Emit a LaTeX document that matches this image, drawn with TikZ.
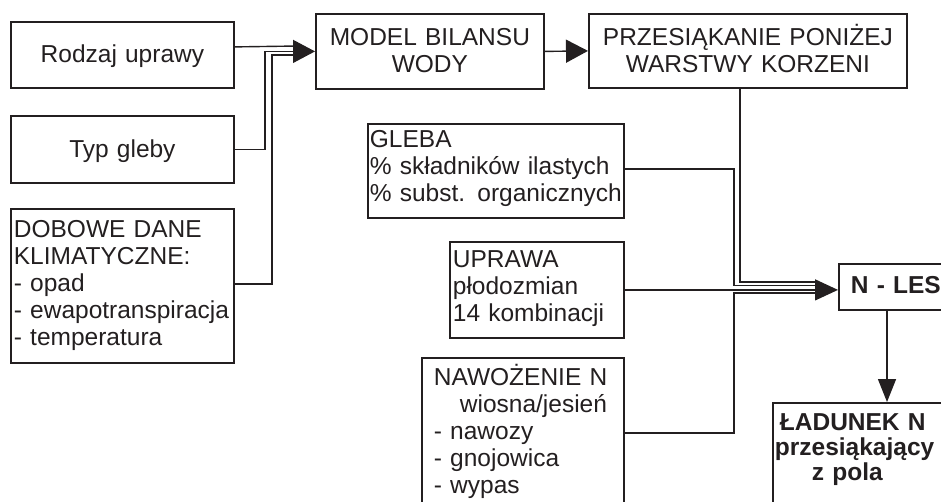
\documentclass[tikz,border=0pt]{standalone}
\usepackage{fontspec}
\setmainfont{Liberation Sans}
\usetikzlibrary{arrows.meta}
\definecolor{ink}{RGB}{35,31,32}
\begin{document}
\begin{tikzpicture}[x=1pt,y=-1pt,
  every node/.style={text=ink},
  box/.style={draw=ink, line width=1.8pt, rectangle, anchor=north west,
    inner ysep=0pt, font=\fontsize{24.5}{27}\selectfont},
  lbox/.style={box, align=left},
  cbox/.style={box, align=center, inner xsep=0pt},
  boldbox/.style={box, align=left, font=\fontsize{24.5}{25}\selectfont\bfseries},
  conn/.style={draw=ink, line width=1.4pt},
  bigtip/.style={-{Triangle[length=22pt,width=23pt]}},
  downtip/.style={-{Triangle[length=23pt,width=18pt]}}
]
\useasboundingbox (0,0) rectangle (941,501);
\clip (0,0) rectangle (941,501);

% input boxes on the left
\node[cbox, text width=223pt, text height=41pt, text depth=25pt] (rodzaj) at (10,21) {Rodzaj uprawy};
\node[cbox, text width=223pt, text height=42pt, text depth=25pt] (typ) at (10,115) {Typ gleby};
\node[lbox, inner xsep=3pt, text width=217pt, text height=29pt, text depth=125pt] (dobowe) at (10,208)
  {DOBOWE DANE\\KLIMATYCZNE:\\- opad\\- ewapotranspiracja\\- temperatura};

% water balance chain
\node[cbox, text width=228pt, text height=32pt, text depth=43pt] (model) at (315,13) {MODEL BILANSU\\WODY};
\node[cbox, text width=318pt, text height=32pt, text depth=42pt] (przes) at (588,13) {PRZESIĄKANIE PONIŻEJ\\WARSTWY KORZENI};

% parameter boxes in the middle
\node[lbox, inner xsep=2pt, text width=252pt, text height=24pt, text depth=70pt] (gleba) at (367,123)
  {GLEBA\\\% składników ilastych\\\% subst. organicznych};
\node[lbox, inner xsep=3pt, text width=168pt, text height=26pt, text depth=70pt] (uprawa) at (449,241)
  {UPRAWA\\płodozmian\\14 kombinacji};
\node[lbox, inner xsep=12pt, text width=178pt, text height=28pt, text depth=122pt] (nawo) at (421,357)
  {NAWOŻENIE N\\\hspace*{26pt}wiosna/jesień\\- nawozy\\- gnojowica\\- wypas};

% model and result
\node[boldbox, inner xsep=12pt, text width=138pt, text height=30pt, text depth=16pt] (nles) at (838,263) {N - LES};
\node[boldbox, inner xsep=2pt, text width=250pt, text height=28pt, text depth=150pt] (ladunek) at (772,402)
  {\hspace*{5pt}ŁADUNEK N\\przesiąkający\\\hspace*{37pt}z pola};

% merge points under the arrow heads
\coordinate (mA) at (298,46);
\coordinate (mC) at (298,55);
\coordinate (nA) at (818,282);
\coordinate (nB) at (818,285.5);
\coordinate (nD) at (818,293);

% inputs of the water balance model
\draw[conn] ([yshift=8pt]rodzaj.east) -- (mA);
\draw[conn] ([yshift=2pt]dobowe.east) -- ++(37,0) |- (mC);
\draw[conn, bigtip] (typ.east) -- ++(30,0) |- (model.west);
\draw[conn, bigtip] (model.east) -- (przes.west);

% inputs of N-LES
\draw[conn] ([xshift=-8pt]przes.south) |- (nA);
\draw[conn] ([yshift=2pt]gleba.east) -- ++(109,0) |- (nB);
\draw[conn] (nawo.east) -- ++(109,0) |- (nD);
\draw[conn, {-Triangle[length=23pt,width=21pt]}] (uprawa.east) -- (uprawa.east -| nles.west);

% result
\draw[conn, downtip] ([xshift=49pt]nles.south west) -- ([xshift=115pt]ladunek.north west);
\end{tikzpicture}
\end{document}
